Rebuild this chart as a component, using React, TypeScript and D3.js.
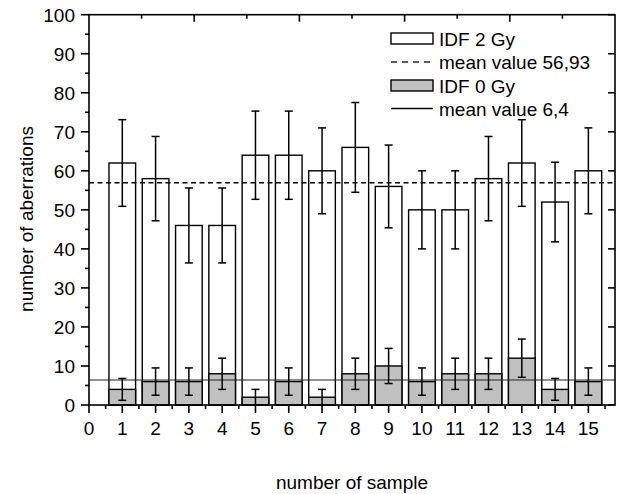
import React from "react";
import { scaleLinear, range } from "d3";

// values
const samples = [1, 2, 3, 4, 5, 6, 7, 8, 9, 10, 11, 12, 13, 14, 15];
const idf2 = [62, 58, 46, 46, 64, 64, 60, 66, 56, 50, 50, 58, 62, 52, 60];
const idf2Err = [11.1, 10.8, 9.6, 9.6, 11.3, 11.3, 11, 11.5, 10.6, 10, 10, 10.8, 11.1, 10.2, 11];
const idf0 = [4, 6, 6, 8, 2, 6, 2, 8, 10, 6, 8, 8, 12, 4, 6];
const idf0Err = [2.8, 3.5, 3.5, 4, 2, 3.5, 2, 4, 4.5, 3.5, 4, 4, 4.9, 2.8, 3.5];
const mean2 = 56.93;
const mean0 = 6.4;
const xTicks = [0, 1, 2, 3, 4, 5, 6, 7, 8, 9, 10, 11, 12, 13, 14, 15];
const yTicks = [0, 10, 20, 30, 40, 50, 60, 70, 80, 90, 100];
const legendItems = ["IDF 2 Gy", "mean value 56,93", "IDF 0 Gy", "mean value 6,4"];

const W = 621;
const H = 494;
const left = 89;
const right = 615;
const top = 14.7;
const bottom = 405;
const font = "Arial, 'Liberation Sans', sans-serif";
const grey = "#c0c0c0";

const App = () => {
  const x = scaleLinear().domain([0, 15.8]).range([left, right]);
  const y = scaleLinear().domain([0, 100]).range([bottom, top]);
  const xTop = scaleLinear().domain([0, 10]).range([left, right]);
  const bw = 0.8;

  const whiteBars = samples.map((s, i) => (
    <rect key={"w" + s} x={x(s - bw / 2)} y={y(idf2[i])} width={x(s + bw / 2) - x(s - bw / 2)}
      height={y(0) - y(idf2[i])} fill="#fff" stroke="#000" strokeWidth={1.4} />
  ));
  const greyBars = samples.map((s, i) => (
    <rect key={"g" + s} x={x(s - bw / 2)} y={y(idf0[i])} width={x(s + bw / 2) - x(s - bw / 2)}
      height={y(0) - y(idf0[i])} fill={grey} stroke="#000" strokeWidth={1.4} />
  ));

  const errBar = (key: string, cx: number, v: number, e: number) => {
    const lo = Math.max(0, v - e);
    return (
      <g key={key} stroke="#000" strokeWidth={1.5}>
        <line x1={cx} x2={cx} y1={y(v + e)} y2={y(lo)} />
        <line x1={cx - 4} x2={cx + 4} y1={y(v + e)} y2={y(v + e)} />
        <line x1={cx - 4} x2={cx + 4} y1={y(lo)} y2={y(lo)} />
      </g>
    );
  };
  const errors = samples.map((s, i) => (
    <g key={"e" + s}>
      {errBar("a", x(s), idf2[i], idf2Err[i])}
      {errBar("b", x(s), idf0[i], idf0Err[i])}
    </g>
  ));

  // ticks
  const bottomMinor = range(0.5, 15.8, 1);
  const leftMinor = range(5, 100, 10);
  const topTicks = range(1, 10, 1);

  const axes = (
    <g stroke="#000" strokeWidth={1.6}>
      {xTicks.map((t) => <line key={"xt" + t} x1={x(t)} x2={x(t)} y1={bottom} y2={bottom + 8} />)}
      {bottomMinor.map((t) => <line key={"xm" + t} x1={x(t)} x2={x(t)} y1={bottom} y2={bottom + 4} />)}
      {yTicks.map((t) => <line key={"yt" + t} x1={left - 8} x2={left} y1={y(t)} y2={y(t)} />)}
      {leftMinor.map((t) => <line key={"ym" + t} x1={left - 4} x2={left} y1={y(t)} y2={y(t)} />)}
      {yTicks.map((t) => <line key={"yr" + t} x1={right - 7} x2={right} y1={y(t)} y2={y(t)} />)}
      {topTicks.map((t) => (
        <line key={"tt" + t} x1={xTop(t)} x2={xTop(t)} y1={top} y2={top + (t % 2 === 0 ? 7 : 4)} />
      ))}
      <rect x={left} y={top} width={right - left} height={bottom - top} fill="none" />
    </g>
  );

  const labels = (
    <g fontFamily={font} fill="#000" fontSize={19}>
      {xTicks.map((t) => (
        <text key={"xl" + t} x={x(t)} y={435} textAnchor="middle">{t}</text>
      ))}
      {yTicks.map((t) => (
        <text key={"yl" + t} x={75} y={y(t) + 7} textAnchor="end">{t}</text>
      ))}
      <text x={(left + right) / 2} y={489} textAnchor="middle">number of sample</text>
      <text transform="translate(33,219) rotate(-90)" textAnchor="middle">
        number of aberrations
      </text>
    </g>
  );

  const rows = [38.5, 62, 85.5, 108.5];
  const lx0 = 391;
  const lx1 = 433;
  const legend = (
    <g fontFamily={font} fontSize={19}>
      <rect x={lx0} y={rows[0] - 5.5} width={lx1 - lx0} height={11} fill="#fff" stroke="#000" strokeWidth={1.4} />
      <line x1={lx0} x2={lx1} y1={rows[1]} y2={rows[1]} stroke="#1a1a80" strokeWidth={1.4} strokeDasharray="6,5" />
      <rect x={lx0} y={rows[2] - 5.5} width={lx1 - lx0} height={11} fill={grey} stroke="#000" strokeWidth={1.4} />
      <line x1={lx0} x2={lx1} y1={rows[3]} y2={rows[3]} stroke="#000" strokeWidth={1.4} />
      {legendItems.map((t, i) => (
        <text key={t} x={439} y={rows[i] + 7}>{t}</text>
      ))}
    </g>
  );

  return (
    <svg width={W} height={H} viewBox={`0 0 ${W} ${H}`}
      style={{ position: "absolute", left: 0, top: 0, background: "#fff" }}>
      {whiteBars}
      {greyBars}
      <line x1={left} x2={right} y1={y(mean2)} y2={y(mean2)} stroke="#000" strokeWidth={1.5} strokeDasharray="5,3.5" />
      <line x1={left} x2={right} y1={y(mean0)} y2={y(mean0)} stroke="#222" strokeWidth={1.2} />
      {errors}
      {axes}
      {labels}
      {legend}
    </svg>
  );
};

export default App;
